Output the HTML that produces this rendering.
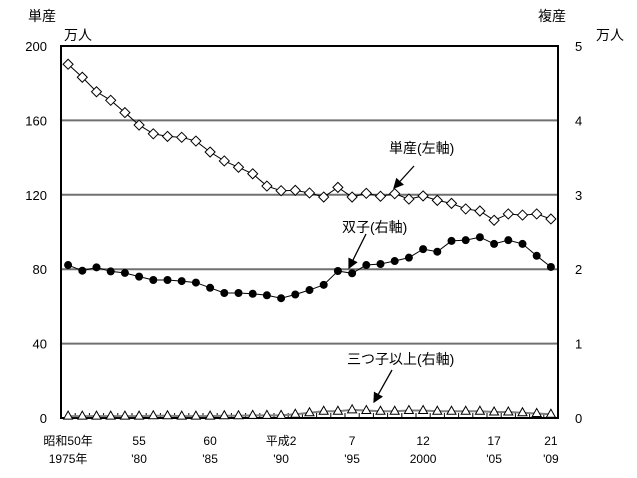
<!DOCTYPE html>
<html><head><meta charset="utf-8"><style>
body{margin:0;background:#fff}
svg{display:block;font-family:"Liberation Sans","Noto Sans CJK JP",sans-serif}
</style></head><body>
<svg id="c" width="637" height="478"></svg>
<script>
const years=[1975,1976,1977,1978,1979,1980,1981,1982,1983,1984,1985,1986,1987,1988,1989,1990,1991,1992,1993,1994,1995,1996,1997,1998,1999,2000,2001,2002,2003,2004,2005,2006,2007,2008,2009];
const singles=[190.2,183.2,175.4,170.8,164.2,157.5,152.8,151.4,150.9,148.9,143,138.2,134.8,131.3,124.7,122.2,122.4,121,118.8,124,118.8,120.8,119.2,120.6,117.7,119.4,117,115.4,112.4,111.3,106.3,109.7,109.1,109.7,107];
const twins=[2.056,1.98,2.025,1.97,1.95,1.9,1.855,1.855,1.84,1.82,1.75,1.68,1.68,1.67,1.65,1.61,1.66,1.72,1.79,1.976,1.945,2.056,2.07,2.11,2.155,2.27,2.235,2.38,2.39,2.43,2.34,2.39,2.34,2.18,2.03];
const triplets=[0.025,0.025,0.025,0.025,0.025,0.025,0.03,0.03,0.025,0.025,0.025,0.03,0.03,0.035,0.035,0.035,0.05,0.07,0.09,0.09,0.11,0.1,0.09,0.09,0.1,0.1,0.09,0.09,0.09,0.09,0.08,0.08,0.07,0.06,0.05];
const leftTicks=[0,40,80,120,160,200];
const rightTicks=[0,1,2,3,4,5];
const xLabels1=[["昭和50年",0],["55",5],["60",10],["平成2",15],["7",20],["12",25],["17",30],["21",34]];
const xLabels2=[["1975年",0],["'80",5],["'85",10],["'90",15],["'95",20],["2000",25],["'05",30],["'09",34]];

const L=61,R=558,T=46,B=418,N=years.length,cw=(R-L)/N;
const xs=i=>L+cw*(i+0.5);
const yl=v=>B-(v/200)*(B-T);
const yr=v=>B-(v/5)*(B-T);
const svg=document.getElementById('c');
const NS='http://www.w3.org/2000/svg';
function mk(tag,attrs,parent){const e=document.createElementNS(NS,tag);for(const k in attrs)e.setAttribute(k,attrs[k]);(parent||svg).appendChild(e);return e;}
function txt(s,x,y,anchor,size,name){const t=mk('text',{x:x,y:y,'text-anchor':anchor,'font-size':size,fill:'#000'});t.textContent=s;


return t;}

leftTicks.forEach((v,i)=>{
 if(v>0&&v<200){const g=mk('line',{x1:L,x2:R,y1:yl(v),y2:yl(v),stroke:'#707070','stroke-width':2});
 
 }
 txt(String(v),47,yl(v)+5,'end',13,'left-tick-label');
});
rightTicks.forEach(v=>{txt(String(v),575,yr(v)+5,'start',13,'right-tick-label');});
const fr=mk('rect',{x:L,y:T,width:R-L,height:B-T,fill:'none',stroke:'#000','stroke-width':2});


for(let i=1;i<N;i++){const tk=mk('line',{x1:L+cw*i,x2:L+cw*i,y1:B,y2:B-5,stroke:'#000','stroke-width':1});

}

function series(vals,yf,name,color,w){
 const p=mk('polyline',{points:vals.map((v,i)=>xs(i)+','+yf(v)).join(' '),fill:'none',stroke:color,'stroke-width':w});
 
 
}
series(triplets,yr,'triplets','#808080',2);
series(twins,yr,'twins','#000',1);
series(singles,yl,'singles','#000',1);
triplets.forEach((v,i)=>{const x=xs(i),y=yr(v);const m=mk('polygon',{points:`${x},${y-5} ${x-4.5},${y+3} ${x+4.5},${y+3}`,fill:'#fff',stroke:'#000','stroke-width':1});

});
twins.forEach((v,i)=>{const m=mk('circle',{cx:xs(i),cy:yr(v),r:4,fill:'#000'});

});
singles.forEach((v,i)=>{const x=xs(i),y=yl(v);const m=mk('polygon',{points:`${x},${y-5} ${x+5},${y} ${x},${y+5} ${x-5},${y}`,fill:'#fff',stroke:'#000','stroke-width':1});

});

xLabels1.forEach(([s,i])=>txt(s,xs(i),445,'middle',12,'x-label-era'));
xLabels2.forEach(([s,i])=>txt(s,xs(i),463,'middle',12,'x-label-year'));
txt('単産',28,21,'start',14,'left-axis-title');
txt('万人',64,40,'start',14,'left-axis-unit');
txt('複産',538,21,'start',14,'right-axis-title');
txt('万人',596,40,'start',14,'right-axis-unit');
txt('単産(左軸)',389,153,'start',14,'singles-annotation');
txt('双子(右軸)',342,232,'start',14,'twins-annotation');
txt('三つ子以上(右軸)',347,364,'start',14,'triplets-annotation');
mk('defs',{}).innerHTML='<marker id="ah" markerWidth="8" markerHeight="8" refX="7" refY="4" orient="auto"><path d="M0,0L8,4L0,8z" fill="#000"/></marker>';
[[414,166,394,188,'singles-arrow'],[366,234,349,268,'twins-arrow'],[392,370,374,402,'triplets-arrow']].forEach(a=>{
 const l=mk('line',{x1:a[0],y1:a[1],x2:a[2],y2:a[3],stroke:'#000','stroke-width':1.3,'marker-end':'url(#ah)'});
 
 
});
</script>
</body></html>
